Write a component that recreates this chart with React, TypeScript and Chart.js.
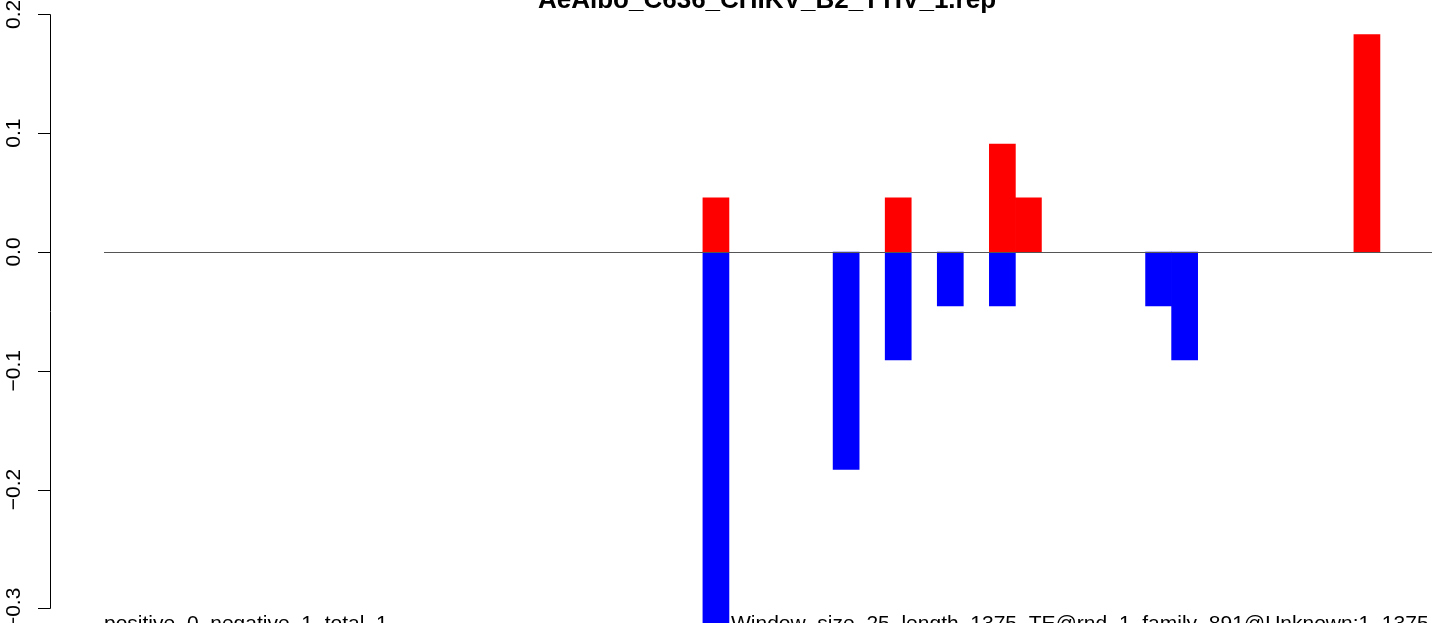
import React, { useEffect, useRef } from "react";
import { Chart, registerables } from "chart.js";

Chart.register(...registerables);

const title = "AeAlbo_C636_CHIKV_B2_TTIV_1.rep";
const leftNote = "positive_0_negative_1_total_1";
const rightNote = "Window_size_25_length_1375_TE@rnd_1_family_891@Unknown:1..1375";

const yTicks = [0.2, 0.1, 0.0, -0.1, -0.2, -0.3];
const yTickLabels = ["0.2", "0.1", "0.0", "\u22120.1", "\u22120.2", "\u22120.3"];

// 51 windows (index 0..50)
const windows = [
  0, 1, 2, 3, 4, 5, 6, 7, 8, 9,
  10, 11, 12, 13, 14, 15, 16, 17, 18, 19,
  20, 21, 22, 23, 24, 25, 26, 27, 28, 29,
  30, 31, 32, 33, 34, 35, 36, 37, 38, 39,
  40, 41, 42, 43, 44, 45, 46, 47, 48, 49,
  50,
];

const positive = [
  0, 0, 0, 0, 0, 0, 0, 0, 0, 0,
  0, 0, 0, 0, 0, 0, 0, 0, 0, 0,
  0, 0, 0, 0.0455, 0, 0, 0, 0, 0, 0,
  0.0455, 0, 0, 0, 0.0909, 0.0455, 0, 0, 0, 0,
  0, 0, 0, 0, 0, 0, 0, 0, 0.183, 0,
  0,
];

const negative = [
  0, 0, 0, 0, 0, 0, 0, 0, 0, 0,
  0, 0, 0, 0, 0, 0, 0, 0, 0, 0,
  0, 0, 0, -0.3182, 0, 0, 0, 0, -0.183, 0,
  -0.0909, 0, -0.0455, 0, -0.0455, 0, 0, 0, 0, 0,
  -0.0455, -0.0909, 0, 0, 0, 0, 0, 0, 0, 0,
  0,
];

const W = 1444;
const H = 623;
const FONT = '"Liberation Sans", Arial, Helvetica, sans-serif';

const overlay = {
  id: "rOverlay",
  afterDraw(chart: any) {
    const ctx = chart.ctx as CanvasRenderingContext2D;
    const xs = chart.scales.x;
    const ys = chart.scales.y;
    ctx.save();

    // baseline at zero from first to last window edge
    const y0 = Math.round(ys.getPixelForValue(0)) + 0.5;
    ctx.strokeStyle = "#555555";
    ctx.lineWidth = 1;
    ctx.beginPath();
    ctx.moveTo(xs.getPixelForValue(0), y0);
    ctx.lineTo(xs.getPixelForValue(windows.length), y0);
    ctx.stroke();

    // y axis
    const ax = 50.5;
    ctx.strokeStyle = "#000000";
    ctx.beginPath();
    ctx.moveTo(ax, Math.round(ys.getPixelForValue(yTicks[0])) + 0.5);
    ctx.lineTo(ax, Math.round(ys.getPixelForValue(yTicks[yTicks.length - 1])) + 0.5);
    yTicks.forEach((v) => {
      const py = Math.round(ys.getPixelForValue(v)) + 0.5;
      ctx.moveTo(38, py);
      ctx.lineTo(ax, py);
    });
    ctx.stroke();

    ctx.fillStyle = "#000000";
    ctx.font = "21px " + FONT;
    ctx.textAlign = "center";
    ctx.textBaseline = "alphabetic";
    yTicks.forEach((v, i) => {
      const py = ys.getPixelForValue(v);
      ctx.save();
      ctx.translate(20, py);
      ctx.rotate(-Math.PI / 2);
      ctx.fillText(yTickLabels[i], 0, 0);
      ctx.restore();
    });

    // title
    ctx.font = "bold 26px " + FONT;
    ctx.textAlign = "center";
    ctx.fillText(title, 767, 8);

    // bottom notes
    ctx.font = "21px " + FONT;
    ctx.textAlign = "left";
    ctx.fillText(leftNote, 104, 630);
    ctx.fillText(rightNote, 731, 630);

    ctx.restore();
  },
};

export default function App() {
  const ref = useRef<HTMLCanvasElement | null>(null);
  useEffect(() => {
    if (!ref.current) return;
    const chart = new Chart(ref.current, {
      type: "bar",
      data: {
        datasets: [
          {
            label: "positive",
            data: positive.map((v, i) => ({ x: windows[i] + 0.5, y: v === 0 ? null : v })),
            backgroundColor: "#FF0000",
            borderWidth: 0,
            barPercentage: 1,
            categoryPercentage: 1,
          },
          {
            label: "negative",
            data: negative.map((v, i) => ({ x: windows[i] + 0.5, y: v === 0 ? null : v })),
            backgroundColor: "#0000FF",
            borderWidth: 0,
            barPercentage: 1,
            categoryPercentage: 1,
          },
        ],
      },
      options: {
        animation: false,
        responsive: false,
        devicePixelRatio: 1,
        layout: { padding: 0 },
        plugins: {
          legend: { display: false },
          tooltip: { enabled: false },
          title: { display: false },
        },
        scales: {
          x: {
            type: "linear",
            min: -3.994,
            max: 51.46,
            offset: false,
            bounds: "ticks",
            stacked: true,
            display: false,
          },
          y: {
            type: "linear",
            min: -0.3123,
            max: 0.2121,
            stacked: true,
            display: false,
          },
        },
      },
      plugins: [overlay],
    } as any);
    return () => chart.destroy();
  }, []);

  return (
    <div style={{ position: "absolute", left: 0, top: 0, width: W, height: H, background: "#fff" }}>
      <canvas ref={ref} width={W} height={H} style={{ display: "block", width: W, height: H }} />
    </div>
  );
}
